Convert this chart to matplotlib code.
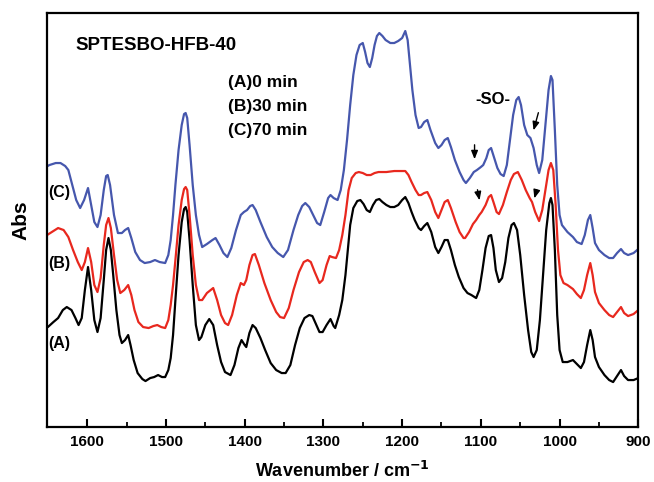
import matplotlib
matplotlib.use("Agg")
import matplotlib.pyplot as plt

plt.rcParams['font.family'] = ['Liberation Sans', 'DejaVu Sans']
plt.rcParams['font.weight'] = 'bold'

# (A) 0 min - black
wn_a = [1655, 1650, 1643, 1637, 1631, 1626, 1620, 1615, 1611, 1607, 1603, 1599, 1595, 1591, 1587,
        1583, 1579, 1576, 1573, 1570, 1567, 1563, 1559, 1556, 1552, 1548, 1545, 1541, 1536, 1530,
        1526, 1520, 1515, 1510, 1505, 1501, 1497, 1494, 1491, 1488, 1484, 1480, 1477, 1475, 1473,
        1470, 1466, 1462, 1458, 1455, 1450, 1445, 1440, 1435, 1430, 1425, 1418, 1413, 1408, 1404,
        1400, 1398, 1394, 1390, 1386, 1380, 1374, 1367, 1360, 1353, 1348, 1342, 1336, 1330, 1324,
        1318, 1314, 1309, 1305, 1301, 1296, 1291, 1287, 1285, 1280, 1276, 1272, 1269, 1266, 1262,
        1257, 1253, 1249, 1245, 1241, 1237, 1233, 1229, 1225, 1220, 1215, 1210, 1205, 1200, 1196,
        1192, 1188, 1184, 1179, 1176, 1172, 1168, 1163, 1158, 1154, 1150, 1146, 1142, 1138, 1133,
        1128, 1122, 1117, 1112, 1106, 1102, 1098, 1094, 1090, 1087, 1084, 1081, 1077, 1073, 1069,
        1065, 1061, 1058, 1054, 1050, 1045, 1040, 1036, 1033, 1029, 1025, 1021, 1017, 1013, 1011,
        1009, 1006, 1003, 1000, 996, 990, 983, 978, 973, 969, 965, 961, 958, 955, 950,
        943, 937, 932, 927, 922, 918, 913, 906, 900]
px_a = [328, 327, 322, 318, 310, 307, 310, 318, 325, 318, 290, 267, 290, 320, 332,
        318, 280, 250, 238, 250, 275, 310, 335, 343, 340, 335, 345, 360, 373, 379,
        381, 378, 377, 375, 377, 377, 370, 358, 335, 300, 255, 222, 209, 207, 212,
        240, 285, 325, 340, 337, 325, 319, 325, 345, 362, 372, 375, 365, 348, 340,
        345, 347, 333, 325, 328, 338, 350, 363, 370, 373, 373, 365, 345, 328, 318,
        315, 316, 325, 332, 332, 325, 319, 326, 328, 315, 300, 275, 250, 225, 208,
        201, 200, 204, 210, 212, 205, 200, 199, 202, 205, 207, 207, 205, 200, 197,
        203, 212, 220, 228, 230, 226, 223, 232, 247, 253, 247, 240, 240, 250, 265,
        277, 288, 293, 295, 298, 290, 270, 248, 236, 235, 248, 270, 282, 278, 262,
        238, 225, 223, 230, 255, 295, 330, 352, 357, 350, 320, 275, 230, 203, 198,
        205, 250, 315, 350, 362, 362, 360, 364, 368, 362, 345, 330, 340, 357, 367,
        375, 380, 382, 376, 370, 376, 380, 380, 378]

# (B) 30 min - red
wn_b = [1655, 1645, 1637, 1630, 1624, 1618, 1612, 1607, 1603, 1599, 1595, 1591, 1587, 1583, 1579,
        1576, 1573, 1570, 1566, 1562, 1558, 1553, 1548, 1544, 1540, 1535, 1529, 1522, 1516, 1511,
        1506, 1501, 1497, 1494, 1491, 1488, 1484, 1480, 1477, 1475, 1473, 1470, 1466, 1462, 1458,
        1454, 1448, 1440, 1435, 1430, 1425, 1421, 1416, 1410, 1405, 1401, 1398, 1394, 1390, 1387,
        1382, 1375, 1367, 1360, 1355, 1350, 1344, 1338, 1331, 1325, 1320, 1316, 1311, 1305, 1301,
        1296, 1292, 1289, 1284, 1280, 1276, 1272, 1268, 1264, 1259, 1255, 1250, 1245, 1240, 1235,
        1230, 1220, 1210, 1200, 1196, 1192, 1188, 1183, 1179, 1176, 1172, 1168, 1163, 1158, 1154,
        1150, 1146, 1142, 1138, 1132, 1127, 1122, 1120, 1115, 1110, 1106, 1102, 1099, 1094, 1090,
        1087, 1084, 1080, 1077, 1072, 1067, 1062, 1058, 1053, 1048, 1043, 1038, 1035, 1031, 1026,
        1022, 1018, 1014, 1011, 1008, 1005, 1002, 999, 995, 990, 983, 978, 973, 969, 965,
        961, 958, 955, 950, 943, 937, 932, 927, 922, 918, 913, 906, 900]
px_b = [237, 232, 228, 230, 237, 250, 262, 270, 262, 248, 262, 285, 292, 278, 245,
        225, 218, 228, 255, 280, 293, 290, 285, 295, 310, 322, 327, 328, 326, 325,
        327, 328, 320, 305, 285, 260, 225, 200, 189, 187, 190, 215, 255, 285, 300,
        300, 293, 288, 300, 315, 323, 325, 315, 295, 283, 285, 280, 265, 255, 254,
        265, 283, 300, 312, 317, 318, 308, 290, 272, 262, 260, 262, 272, 283, 280,
        265, 256, 257, 258, 250, 235, 215, 190, 178, 173, 172, 173, 175, 175, 173,
        172, 172, 171, 171, 171, 175, 182, 190, 195, 195, 193, 192, 200, 212, 218,
        210, 202, 200, 208, 222, 232, 238, 238, 232, 224, 220, 215, 212, 205, 197,
        195, 202, 212, 214, 205, 192, 180, 174, 172, 180, 190, 198, 202, 212, 221,
        210, 190, 170, 163, 170, 205, 250, 275, 283, 285, 289, 294, 298, 290, 275,
        263, 275, 292, 303, 310, 315, 317, 312, 307, 313, 316, 314, 310]

# (C) 70 min - blue
wn_c = [1655, 1648, 1640, 1634, 1628, 1624, 1619, 1614, 1609, 1604, 1599, 1595, 1591, 1587, 1583,
        1579, 1576, 1574, 1571, 1566, 1561, 1556, 1552, 1548, 1544, 1539, 1533, 1527, 1520, 1514,
        1508, 1501, 1497, 1494, 1491, 1488, 1484, 1480, 1477, 1475, 1473, 1470, 1466, 1462, 1458,
        1454, 1448, 1441, 1437, 1432, 1427, 1422, 1417, 1411, 1405, 1401, 1397, 1393, 1390, 1386,
        1380, 1372, 1365, 1358, 1351, 1345, 1338, 1332, 1327, 1323, 1318, 1313, 1308, 1304, 1299,
        1294, 1291, 1287, 1282, 1278, 1274, 1270, 1266, 1262, 1258, 1254, 1250, 1247, 1244, 1241,
        1238, 1235, 1232, 1229, 1225, 1221, 1215, 1210, 1205, 1200, 1196, 1193, 1190, 1187, 1183,
        1179, 1176, 1172, 1168, 1164, 1158, 1154, 1150, 1146, 1142, 1138, 1133, 1127, 1122, 1119,
        1114, 1109, 1105, 1100, 1097, 1093, 1090, 1087, 1083, 1079, 1075, 1071, 1067, 1063, 1059,
        1055, 1052, 1049, 1045, 1041, 1037, 1033, 1029, 1026, 1022, 1018, 1014, 1011, 1009, 1006,
        1003, 1000, 997, 990, 983, 978, 972, 968, 964, 961, 958, 955, 950, 943, 937,
        932, 927, 922, 918, 913, 906, 900]
px_c = [168, 165, 163, 163, 166, 170, 185, 200, 208, 200, 188, 205, 222, 227, 215,
        190, 176, 175, 185, 215, 233, 233, 230, 228, 238, 252, 260, 263, 262, 260,
        262, 263, 255, 240, 215, 185, 150, 125, 114, 113, 118, 145, 185, 215, 235,
        247, 244, 240, 238, 245, 253, 257, 248, 230, 215, 212, 210, 206, 205, 210,
        222, 237, 247, 253, 257, 250, 230, 215, 206, 203, 207, 215, 223, 225, 212,
        198, 195, 198, 200, 190, 170, 140, 105, 75, 55, 45, 43, 52, 63, 67,
        58, 45, 36, 33, 36, 40, 43, 43, 41, 38, 31, 40, 65, 90, 115,
        128, 127, 122, 120, 130, 143, 148, 145, 140, 138, 147, 160, 172, 180, 183,
        178, 172, 170, 167, 165, 158, 150, 148, 158, 168, 174, 176, 165, 140, 115,
        100, 97, 105, 125, 135, 138, 148, 165, 173, 160, 125, 90, 76, 80, 130,
        185, 215, 225, 232, 237, 242, 244, 235, 220, 215, 228, 243, 250, 255, 258,
        258, 253, 249, 253, 255, 253, 249]

# readings were taken as pixel rows; turn them into absorbance (arb. units)
abs_a = [427 - v for v in px_a]
abs_b = [427 - v for v in px_b]
abs_c = [427 - v for v in px_c]

series_labels = ['(A)0 min', '(B)30 min', '(C)70 min']

fig = plt.figure(figsize=(6.54, 4.82), dpi=100)
ax = fig.add_axes([0.072, 0.114, 0.904, 0.859])

ax.plot(wn_a, abs_a, color='black', lw=1.6, solid_joinstyle='round')
ax.plot(wn_b, abs_b, color='#e8281e', lw=1.6, solid_joinstyle='round')
ax.plot(wn_c, abs_c, color='#4657ad', lw=1.6, solid_joinstyle='round')

ax.set_xlim(1651, 900)
ax.set_ylim(0, 414)
ax.set_yticks([])
ax.set_xticks([1600, 1500, 1400, 1300, 1200, 1100, 1000, 900])
ax.set_xticks([1550, 1450, 1350, 1250, 1150, 1050, 950], minor=True)
ax.tick_params(axis='x', which='major', direction='in', length=6, width=1.5,
               labelsize=11, pad=6)
ax.tick_params(axis='x', which='minor', direction='in', length=3.5, width=1.3)
for lab in ax.get_xticklabels():
    lab.set_fontweight('bold')
for sp in ax.spines.values():
    sp.set_linewidth(1.6)

ax.set_xlabel('Wavenumber / cm$^{\\mathbf{-1}}$', fontsize=13, fontweight='bold', labelpad=8)
ax.set_ylabel('Abs', fontsize=15, fontweight='bold', labelpad=12)

ax.text(1615, 382, 'SPTESBO-HFB-40', fontsize=13.5, fontweight='bold', va='center')
for i, lab in enumerate(series_labels):
    ax.text(1421, 345 - 24 * i, lab, fontsize=12.5, fontweight='bold', va='center')

ax.text(1650, 235, '(C)', fontsize=11.5, fontweight='bold', va='center')
ax.text(1650, 164, '(B)', fontsize=11.5, fontweight='bold', va='center')
ax.text(1650, 84, '(A)', fontsize=11.5, fontweight='bold', va='center')
ax.text(1085, 328, '-SO-', fontsize=12, fontweight='bold', va='center', ha='center')

arrow = dict(arrowstyle='-|>,head_length=0.5,head_width=0.2', color='black', lw=1.0)
ax.annotate('', xy=(1108, 265), xytext=(1108, 285), arrowprops=arrow)
ax.annotate('', xy=(1034, 294), xytext=(1026, 317), arrowprops=arrow)
ax.annotate('', xy=(1101, 224), xytext=(1105, 240), arrowprops=arrow)
ax.annotate('', xy=(1033, 226), xytext=(1028, 240), arrowprops=arrow)

fig.savefig('out.png', dpi=100)
